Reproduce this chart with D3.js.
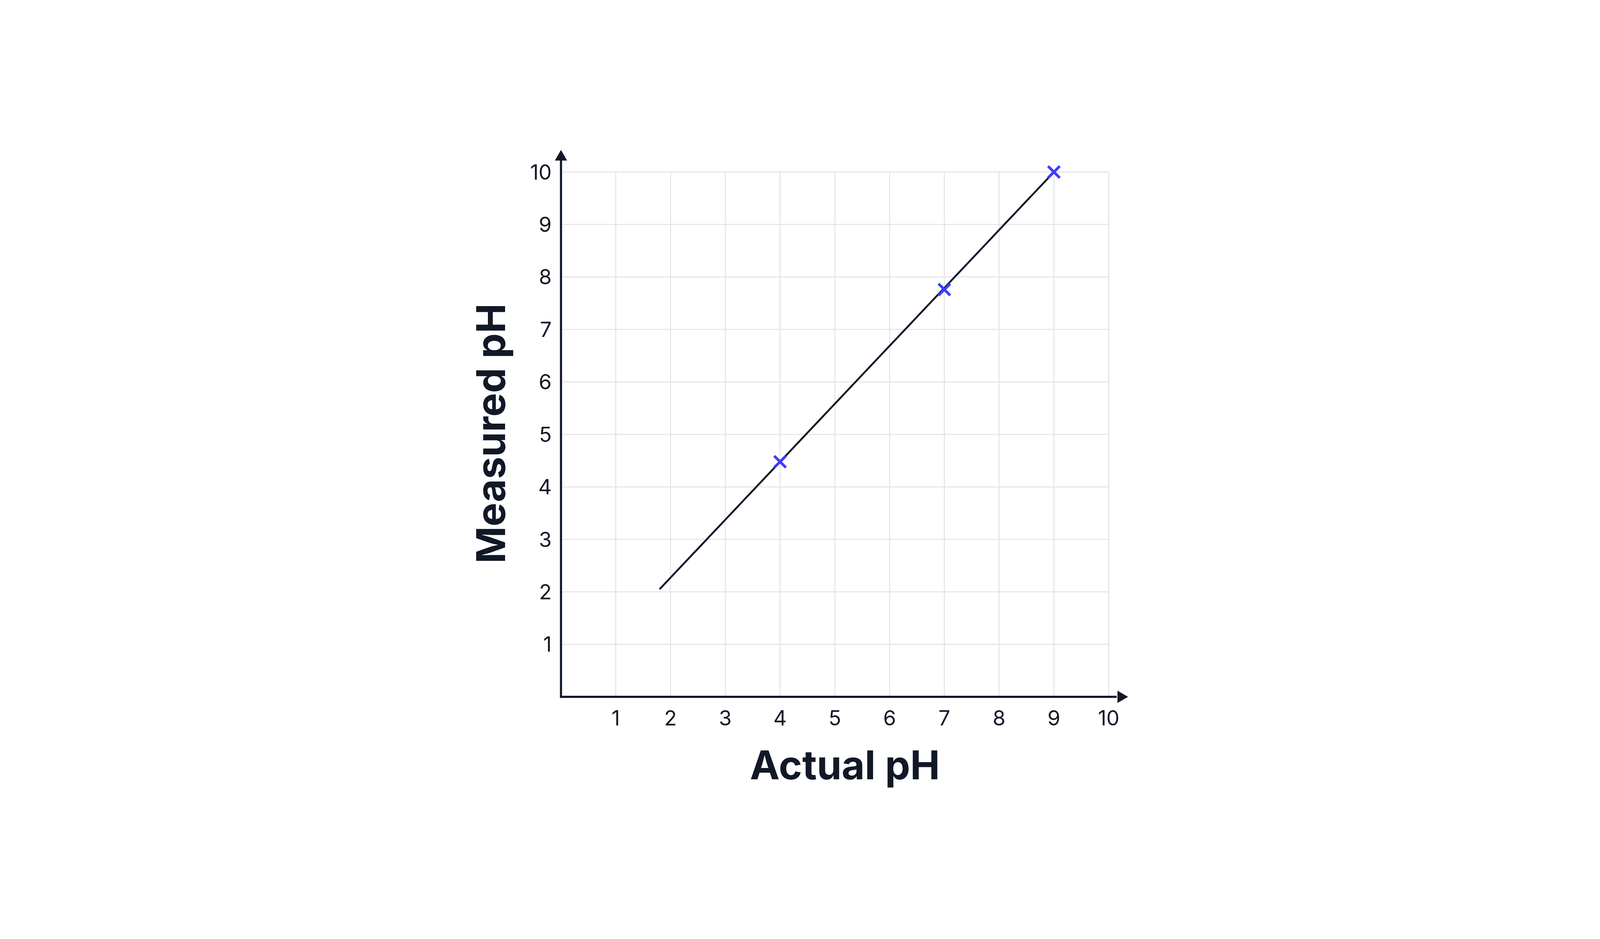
<!DOCTYPE html>
<html><head><meta charset="utf-8">
<script src="https://cdn.jsdelivr.net/npm/d3@7"></script>
<style>html,body{margin:0;padding:0;background:#fff;overflow:hidden}svg{display:block}</style>
</head><body><div class="canva"></div>
<script>
const ticks = [1,2,3,4,5,6,7,8,9,10];
const actual = [4, 7, 9];
const measured = [4.48, 7.76, 10];
const fitLine = [[1.8, 2.05], [9, 10]];

const W = 6018, H = 2405, ink = "#111827";
const svg = d3.select(".canva").append("svg")
  .attr("width", "100vw").attr("height", "100vh")
  .attr("viewBox", `0 0 ${W} ${H}`).attr("preserveAspectRatio", "xMidYMid meet");

const x = d3.scaleLinear().domain([0, 10]).range([2110, 4170]);
const y = d3.scaleLinear().domain([0, 10]).range([2058, 83]);

// grid
svg.append("g").selectAll("line").data(ticks).join("line")
  .attr("x1", d => x(d)).attr("x2", d => x(d)).attr("y1", y(0)).attr("y2", y(10))
  .attr("stroke", "#e5e5e5").attr("stroke-width", 4);
svg.append("g").selectAll("line").data(ticks).join("line")
  .attr("y1", d => y(d)).attr("y2", d => y(d)).attr("x1", x(0)).attr("x2", x(10))
  .attr("stroke", "#e5e5e5").attr("stroke-width", 4);

// axes with arrows
svg.append("line").attr("x1", x(0)).attr("x2", 4200).attr("y1", y(0)).attr("y2", y(0))
  .attr("stroke", ink).attr("stroke-width", 8);
svg.append("line").attr("x1", x(0)).attr("x2", x(0)).attr("y1", y(0) + 4).attr("y2", 35)
  .attr("stroke", ink).attr("stroke-width", 8);
svg.append("path").attr("d", `M${x(0)},0 L${x(0)-23},40 L${x(0)+23},40 Z`).attr("fill", ink);
svg.append("path").attr("d", `M4243,${y(0)} L4203,${y(0)-23} L4203,${y(0)+23} Z`).attr("fill", ink);

// tick labels
svg.append("g").selectAll("text").data(ticks).join("text")
  .attr("x", d => x(d)).attr("y", y(0) + 107).attr("text-anchor", "middle")
  .attr("font-family", "Inter").attr("font-size", 78).attr("fill", ink).text(d => d);
svg.append("g").selectAll("text").data(ticks).join("text")
  .attr("x", 2075).attr("y", d => y(d) + 28).attr("text-anchor", "end")
  .attr("font-family", "Inter").attr("font-size", 78).attr("fill", ink).text(d => d);

// titles
svg.append("text").attr("x", 3178).attr("y", 2368).attr("text-anchor", "middle")
  .attr("font-family", "Inter").attr("font-weight", 700).attr("font-size", 150).attr("fill", ink)
  .text("Actual pH");
svg.append("text").attr("transform", "translate(1900,1067) rotate(-90)").attr("text-anchor", "middle")
  .attr("font-family", "Inter").attr("font-weight", 700).attr("font-size", 150).attr("fill", ink)
  .text("Measured pH");

// fit line
svg.append("path").datum(fitLine)
  .attr("d", d3.line().x(d => x(d[0])).y(d => y(d[1])))
  .attr("stroke", ink).attr("stroke-width", 7).attr("fill", "none");

// markers
const s = 22;
const pts = svg.append("g").selectAll("g").data(actual.map((a, i) => [a, measured[i]])).join("g")
  .attr("transform", d => `translate(${x(d[0])},${y(d[1])})`);
pts.append("path").attr("d", `M${-s},${-s}L${s},${s}M${-s},${s}L${s},${-s}`)
  .attr("stroke", "#3c3cff").attr("stroke-width", 10);
</script></body></html>
